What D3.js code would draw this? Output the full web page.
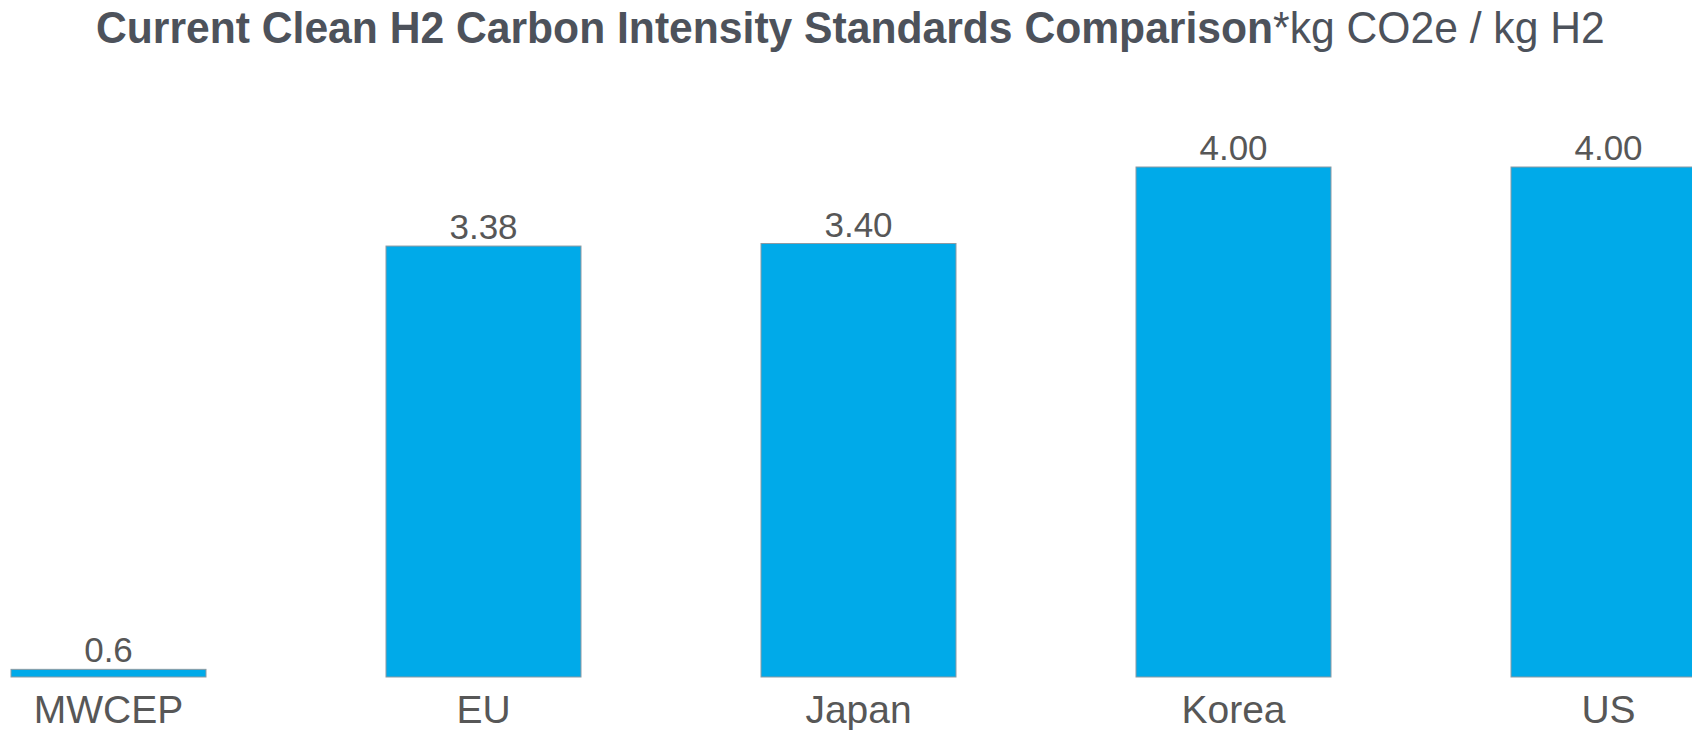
<!DOCTYPE html>
<html>
<head>
<meta charset="utf-8">
<script src="https://cdn.jsdelivr.net/npm/d3@7"></script>
<style>
  html, body { margin: 0; padding: 0; background: #ffffff; overflow: hidden; }
  svg { display: block; }
</style>
</head>
<body>
<svg id="chart" width="1692" height="730"></svg>
<script>
// ---- data ----
const categories = ["MWCEP", "EU", "Japan", "Korea", "US"];
const values = [0.06, 3.38, 3.40, 4.00, 4.00];           // bar heights
const valueLabels = ["0.6", "3.38", "3.40", "4.00", "4.00"]; // labels printed above bars
const titleBold = "Current Clean H2 Carbon Intensity Standards Comparison";
const titleNormal = "*kg CO2e / kg H2";

// ---- layout ----
const svg = d3.select("#chart");

const x = d3.scaleBand()
  .domain(categories)
  .range([11, 1706])
  .paddingInner(0.48)
  .paddingOuter(0);

const y = d3.scaleLinear()
  .domain([0, 4])
  .range([677, 167]);

const font = "'Liberation Sans', Arial, Helvetica, sans-serif";
const narrow = "'Liberation Sans Narrow', 'Arial Narrow', 'Liberation Sans', Arial, sans-serif";

// title: one text element, two tspans, horizontally condensed to the reference width
const title = svg.append("text")
  .attr("font-family", narrow)
  .attr("font-size", 44)
  .attr("fill", "#4d525b");
title.append("tspan").attr("font-weight", "bold").text(titleBold);
title.append("tspan").attr("font-weight", "normal").text(titleNormal);
const natural = title.node().getComputedTextLength();
const sx = (1605 - 96) / natural;
title.attr("transform", `translate(96,43) scale(${sx},1)`);

const data = categories.map((c, i) => ({ c, v: values[i], label: valueLabels[i] }));

// bars
svg.append("g").selectAll("rect")
  .data(data)
  .join("rect")
  .attr("x", d => x(d.c))
  .attr("y", d => y(d.v))
  .attr("width", x.bandwidth())
  .attr("height", d => y(0) - y(d.v))
  .attr("fill", "#00aae9")
  .attr("stroke", "#8c9aa3")
  .attr("stroke-width", 1);

// value labels
svg.append("g").selectAll("text")
  .data(data)
  .join("text")
  .attr("x", d => x(d.c) + x.bandwidth() / 2)
  .attr("y", d => y(d.v) - 7)
  .attr("text-anchor", "middle")
  .attr("font-family", font)
  .attr("font-size", 35)
  .attr("fill", "#575757")
  .text(d => d.label);

// category axis labels
const xAxis = d3.axisBottom(x).tickSize(0).tickPadding(0);
const gx = svg.append("g")
  .attr("transform", `translate(0,${y(0)})`)
  .call(xAxis);
gx.select(".domain").remove();
gx.selectAll("text")
  .attr("y", 46)
  .attr("dy", 0)
  .attr("font-family", font)
  .attr("font-size", 39)
  .attr("fill", "#575757");
</script>
</body>
</html>
